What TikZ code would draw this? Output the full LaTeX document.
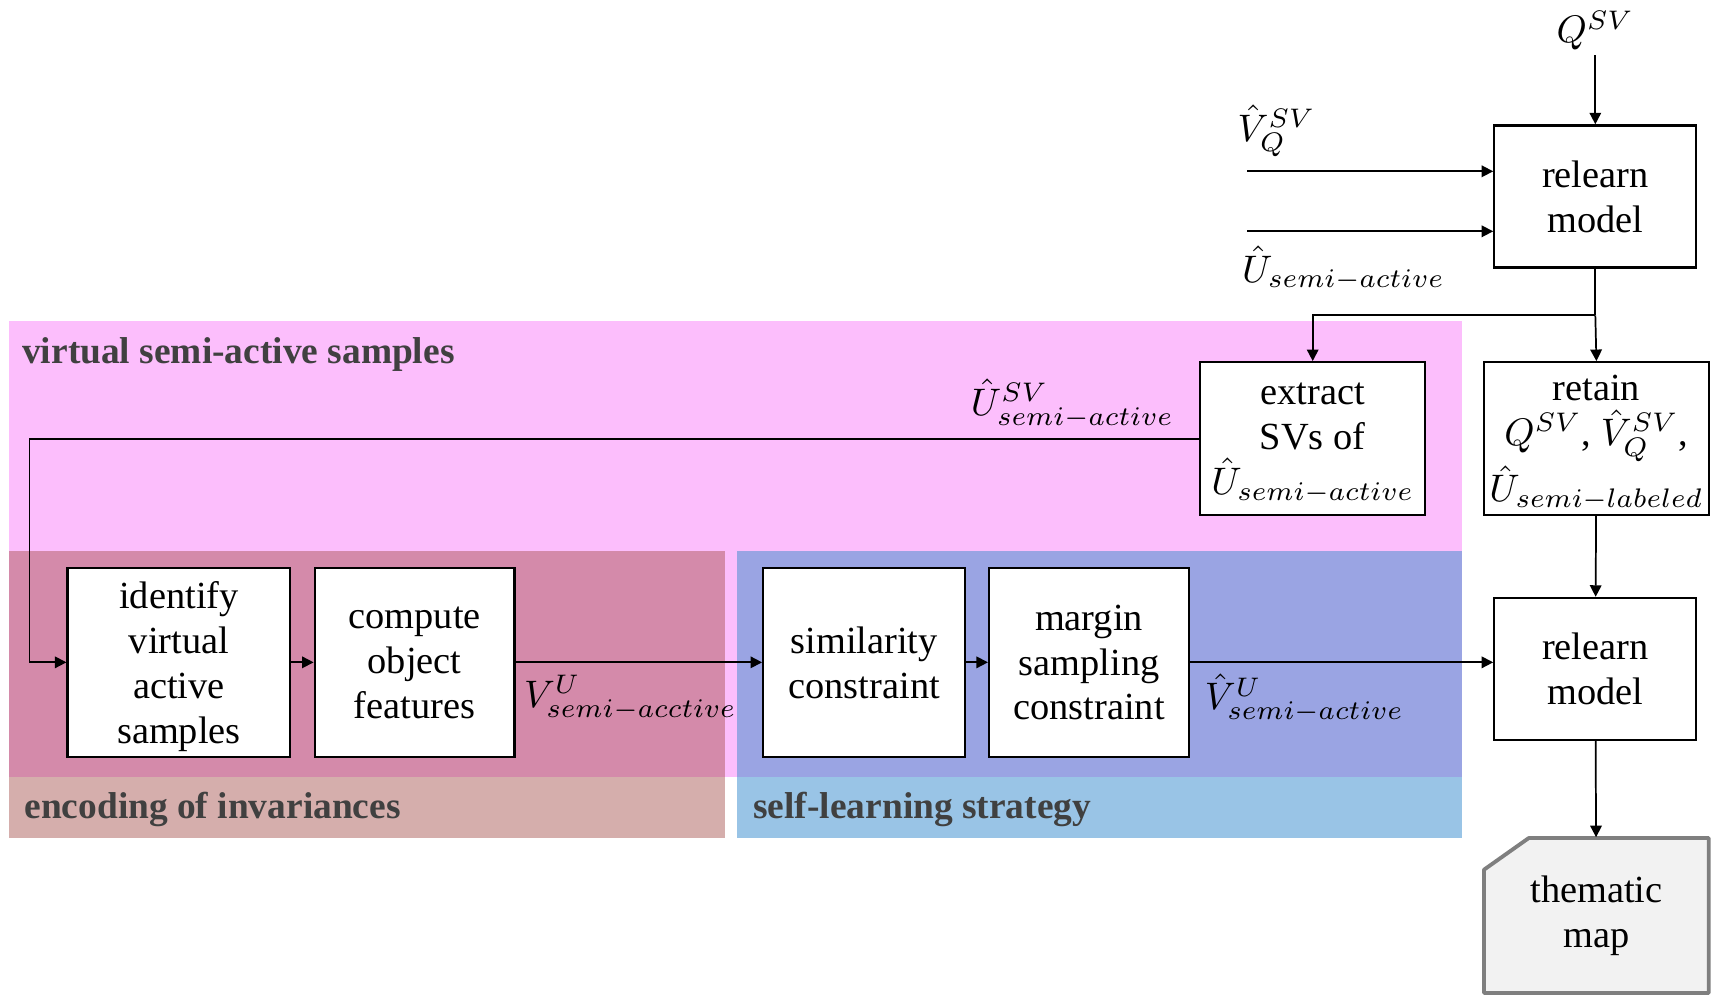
\documentclass[tikz,border=0pt]{standalone}
\usepackage{fontspec}
\setmainfont{Liberation Serif}
\usetikzlibrary{arrows.meta,positioning}

\definecolor{virtpink}{RGB}{252,190,252}
\definecolor{encdark}{RGB}{212,138,170}
\definecolor{enclight}{RGB}{213,174,172}
\definecolor{selfdark}{RGB}{154,164,227}
\definecolor{selflight}{RGB}{153,196,230}
\definecolor{labelgray}{RGB}{64,64,64}
\definecolor{mapgray}{RGB}{127,127,127}
\definecolor{mapfill}{RGB}{242,242,242}

\begin{document}
\begin{tikzpicture}[x=0.01cm, y=-0.01cm, >={Triangle[length=3pt,width=3pt]},
    font=\fontsize{10}{11.7}\selectfont]
    \tikzstyle{flow}=[->,line width=0.45pt]
    \tikzstyle{block}=[draw,fill=white,line width=0.6pt,align=center,inner sep=0pt,text depth=0pt]
    \tikzstyle{model block}=[block,minimum width=1.85cm,minimum height=1.30cm]
    \tikzstyle{wide block}=[block,minimum width=2.06cm,minimum height=1.40cm]
    \tikzstyle{group label}=[anchor=west,text=labelgray,font=\fontsize{9.75}{12}\selectfont\bfseries]
    \tikzstyle{math label}=[inner sep=1pt]

    \useasboundingbox (0,0) rectangle (1568,916);

    % Draw the coloured group areas
    \fill[virtpink] (8,294) rectangle (1340,712);
    \fill[encdark] (8,505) rectangle (664,712);
    \fill[enclight] (8,712) rectangle (664,768);
    \fill[selfdark] (675,505) rectangle (1340,712);
    \fill[selflight] (675,712) rectangle (1340,768);

    % Annotate the groups
    \node[group label] (virt) at (8,325) {virtual semi-active samples};
    \node[group label] (enc) at (10,742) {encoding of invariances};
    \node[group label] (self) at (678,742) {self-learning strategy};

    % Draw the model nodes on the right
    \node[model block] (rm1) at (1462,180) {relearn\\model};
    \node[wide block] (extract) at (1203,402) {extract\\SVs of\\$\hat{U}_{semi-active}$};
    \node[wide block] (retain) at (1463,402) {retain\\$Q^{SV}$, $\hat{V}^{SV}_{Q}$,\\$\hat{U}_{semi-labeled}$};
    \node[model block] (rm2) at (1462,613) {relearn\\model};

    % Draw the lower row of steps
    \foreach \name/\x/\w/\txt in {identify/164/2.04/{identify\\virtual\\active\\samples},
                                  compute/380/1.83/{compute\\object\\features},
                                  simil/792/1.85/{similarity\\constraint},
                                  margin/998/1.83/{margin\\sampling\\constraint}}
        \node[block, minimum width=\w cm, minimum height=1.73cm] (\name) at (\x,607) {\txt};

    % Thematic map with the cut corner
    \filldraw[fill=mapfill, draw=mapgray, line width=1pt, line join=round]
        (1360,797) -- (1401,768) -- (1566,768) -- (1566,910) -- (1360,910) -- cycle;
    \node[minimum width=2.06cm, minimum height=1.42cm, align=center] (map) at (1463,839) {thematic\\map};

    % Inputs of the first model
    \node[inner sep=1pt] (q) at (1462,28) {$Q^{SV}$};
    \node[math label, anchor=west] (vq) at (1130,120) {$\hat{V}^{SV}_{Q}$};
    \node[math label, anchor=west] (uin) at (1134,246) {$\hat{U}_{semi-active}$};
    \coordinate (vq-in) at (1143,157);
    \coordinate (u-in) at (1143,212);
    \draw[flow] (q) -- (rm1);
    \draw[flow] (vq-in) -- (vq-in -| rm1.west);
    \draw[flow] (u-in) -- (u-in -| rm1.west);

    % Split below the first model
    \coordinate (split) at (1462,289);
    \draw[line width=0.45pt] (rm1.south) -- (split);
    \draw[flow] (split) -| (extract.north);
    \draw[flow] (split) -- (retain.north);

    % Feed the support vectors back to the lower row
    \node[math label, anchor=east] (usv) at (1080,370) {$\hat{U}^{SV}_{semi-active}$};
    \coordinate (back) at (27,402);
    \draw[flow] (extract.west) -- (back) |- (identify.west);

    % Connect the steps of the lower row
    \foreach \source/\dest in {identify/compute, compute/simil, simil/margin}
        \draw[flow] (\source) -- (\dest);
    \draw[flow] (margin.east) -- (margin.east -| rm2.west);
    \node[math label, anchor=west] (vu) at (476,640) {$V^{U}_{semi-acctive}$};
    \node[math label, anchor=west] (vhatu) at (1100,640) {$\hat{V}^{U}_{semi-active}$};

    % Down to the final map
    \draw[flow] (retain) -- (rm2);
    \draw[flow] (rm2) -- (map);
\end{tikzpicture}
\end{document}
